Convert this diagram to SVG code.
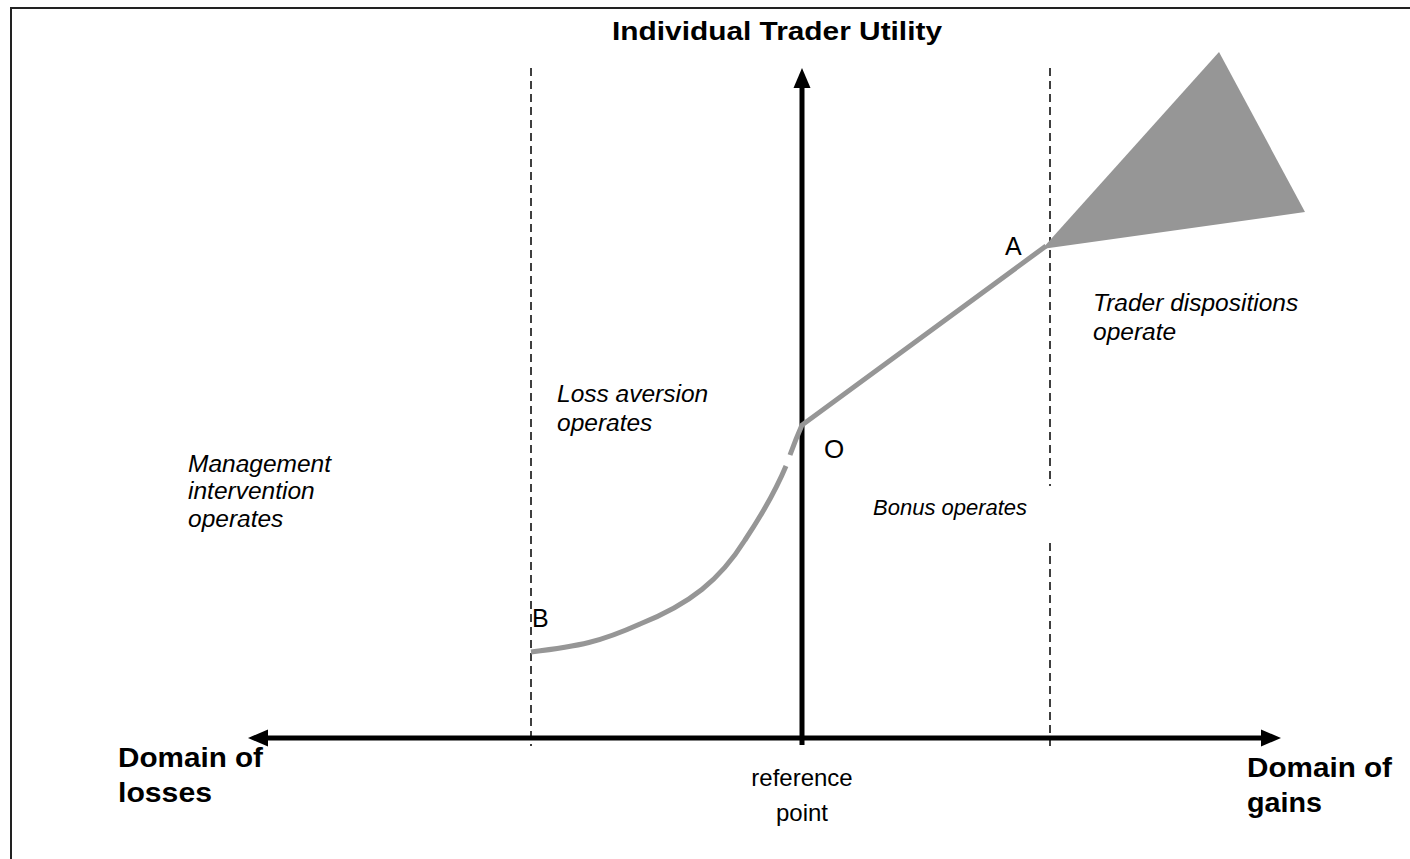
<svg xmlns="http://www.w3.org/2000/svg" width="1410" height="859" viewBox="0 0 1410 859">
<style>
.t{font-family:"Liberation Sans",Arial,sans-serif;fill:#000}
.b{font-weight:bold}
.i{font-style:italic;font-size:24.5px}
.dash{stroke:#000;stroke-width:1.5;stroke-dasharray:8,5;fill:none}
.ax{stroke:#000;stroke-width:5;fill:none}
.cv{stroke:#969696;stroke-width:5;fill:none}
</style>
<defs>
<marker id="ah" markerWidth="4" markerHeight="4" refX="2" refY="2" orient="auto" markerUnits="strokeWidth" viewBox="0 0 4 4">
<path d="M0,0.3 L4,2 L0,3.7 Z" fill="#000"/>
</marker>
</defs>
<rect width="1410" height="859" fill="#fff"/>
<path d="M11,859 V8 H1410" stroke="#222" stroke-width="2" fill="none"/>
<g id="guides">
<line class="dash" x1="531" y1="68" x2="531" y2="746"/>
<line class="dash" x1="1050" y1="68" x2="1050" y2="486"/>
<line class="dash" x1="1050" y1="543" x2="1050" y2="746"/>
</g>
<g id="connectors">
<line class="ax" x1="802" y1="745" x2="802" y2="78" marker-end="url(#ah)"/>
<line class="ax" x1="802" y1="738" x2="258" y2="738" marker-end="url(#ah)"/>
<line class="ax" x1="802" y1="738" x2="1271" y2="738" marker-end="url(#ah)"/>
</g>
<g id="curve">
<path class="cv" d="M531,652 C580,646 600,642 640,624 C690,604 720,580 745,540 C765,510 778,485 786,466"/>
<path class="cv" d="M790,455 C794,444 798,434 802,425 L1046,246"/>
<polygon points="1042,249 1219,52 1305,212" fill="#969696"/>
</g>
<g id="labels">
<text class="t b" x="612" y="40" font-size="25" textLength="330" lengthAdjust="spacingAndGlyphs">Individual Trader Utility</text>
<text class="t b" x="118" y="767" font-size="27" textLength="145" lengthAdjust="spacingAndGlyphs">Domain of</text>
<text class="t b" x="118" y="802" font-size="27" textLength="94" lengthAdjust="spacingAndGlyphs">losses</text>
<text class="t b" x="1247" y="777" font-size="27" textLength="145" lengthAdjust="spacingAndGlyphs">Domain of</text>
<text class="t b" x="1247" y="812" font-size="27" textLength="75" lengthAdjust="spacingAndGlyphs">gains</text>
<text class="t" x="802" y="786" font-size="24" text-anchor="middle">reference</text>
<text class="t" x="802" y="821" font-size="24" text-anchor="middle">point</text>
<text class="t i" x="188" y="472">Management</text>
<text class="t i" x="188" y="499">intervention</text>
<text class="t i" x="188" y="527">operates</text>
<text class="t i" x="557" y="402">Loss aversion</text>
<text class="t i" x="557" y="431">operates</text>
<text class="t i" x="873" y="515" style="font-size:22px">Bonus operates</text>
<text class="t i" x="1093" y="311">Trader dispositions</text>
<text class="t i" x="1093" y="340">operate</text>
<text class="t" x="1005" y="255" font-size="25">A</text>
<text class="t" x="824" y="458" font-size="26">O</text>
<text class="t" x="532" y="627" font-size="25">B</text>
</g>
</svg>
